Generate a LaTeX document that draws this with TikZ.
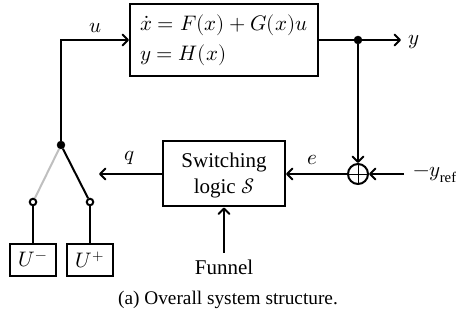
\documentclass[tikz,border=0pt]{standalone}
\usepackage{fontspec}
\setmainfont{Liberation Serif}
\usepackage{unicode-math}
\setmathfont{Latin Modern Math}
\usetikzlibrary{arrows.meta}
\tikzset{
  wire/.style={line width=2pt},
  arrowwire/.style={wire,-{Straight Barb[length=5.5pt,width=11pt,line width=2pt,round]}},
  blockbox/.style={draw,line width=2pt,inner sep=0pt,font=\fontsize{21}{30}\selectfont},
  lbl/.style={inner sep=0pt,font=\fontsize{21}{26}\selectfont},
  caplbl/.style={inner sep=0pt,font=\fontsize{19.3}{24}\selectfont},
  junction/.style={circle,fill=black,draw=black,inner sep=0pt,minimum size=8pt},
  terminal/.style={circle,fill=white,draw=black,line width=2pt,inner sep=0pt,minimum size=6.5pt}
}
\begin{document}
\begin{tikzpicture}[x=1pt,y=-1pt]
\useasboundingbox (0,0) rectangle (456,320);
\node[blockbox,minimum width=188pt,minimum height=72pt,align=left,text width=168pt] (plant) at (224,40) {$\dot{x}=F(x)+G(x)u$\\$y=H(x)$};
\node[blockbox,minimum width=122pt,minimum height=65pt,
  label={[lbl,align=center,yshift=-1pt]center:Switching\\logic $\mathcal{S}$}] (logic) at (224,174) {};
\node[circle,draw,line width=2pt,minimum size=20pt,inner sep=0pt] (sum) at (358,174) {};
\draw[line width=0.5pt] (sum.west) -- (sum.east) (sum.north) -- (sum.south);
\node[junction] (jy) at (358,40) {};
\node[junction] (jsw) at (61,145) {};
\coordinate (yend) at (401,40);
\coordinate (rin) at (404,174);
\coordinate (qend) at (99,174);
\coordinate (corner) at (61,40);
\node[terminal] (tm) at (33,202) {};
\node[terminal] (tp) at (90,202) {};
\node[blockbox,minimum width=46pt,minimum height=32pt] (um) at (33,260) {$U^{-}$};
\node[blockbox,minimum width=46pt,minimum height=32pt] (up) at (90,260) {$U^{+}$};
\node[lbl,anchor=base] (fun) at (224,274.5) {Funnel};
\coordinate (funtop) at (224,253);
\node[lbl] (lu) at (96,28) {$u$};
\node[lbl] (ly) at (414,42) {$y$};
\node[lbl] (lq) at (130,158) {$q$};
\node[lbl] (le) at (312,160) {$e$};
\node[lbl,anchor=west] (lref) at (413,175) {$-y_{\mathrm{ref}}$};
\node[caplbl,anchor=base] (cap) at (228,305) {(a) Overall system structure.};
\draw[arrowwire] (jsw) -- (corner) -- (plant.west |- corner);
\draw[arrowwire] (plant.east |- jy) -- (yend);
\draw[arrowwire] (jy) -- (sum.north);
\draw[arrowwire] (rin) -- (sum.east);
\draw[arrowwire] (sum.west) -- (logic.east |- sum);
\draw[arrowwire] (logic.west |- qend) -- (qend);
\draw[arrowwire] (funtop) -- (logic.south -| funtop);
\draw[line width=2pt,black!25] (jsw) -- (tm);
\draw[wire] (jsw) -- (tp);
\draw[wire] (tm) -- (um.north);
\draw[wire] (tp) -- (up.north);
\end{tikzpicture}
\end{document}
